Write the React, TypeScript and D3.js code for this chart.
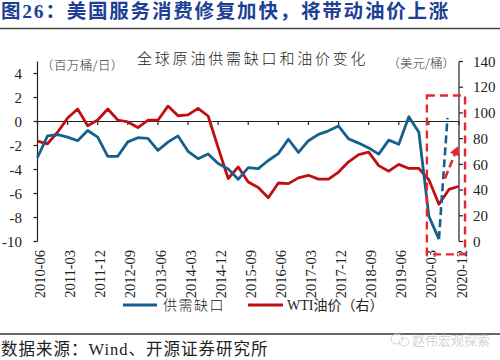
import React from "react";
import * as d3 from "d3";

// ---- data ----
const categories = [
  "2010-06","2010-09","2010-12","2011-03","2011-06","2011-09","2011-12","2012-03","2012-06","2012-09",
  "2012-12","2013-03","2013-06","2013-09","2013-12","2014-03","2014-06","2014-09","2014-12","2015-03",
  "2015-06","2015-09","2015-12","2016-03","2016-06","2016-09","2016-12","2017-03","2017-06","2017-09",
  "2017-12","2018-03","2018-06","2018-09","2018-12","2019-03","2019-06","2019-09","2019-12","2020-03",
  "2020-06","2020-09","2020-12",
];
// 供需缺口 (百万桶/日), left axis
const supplyGap = [
  -3.0, -1.2, -1.1, -1.3, -1.6, -0.75, -1.3, -2.9, -2.9, -1.7,
  -1.35, -1.4, -2.4, -1.72, -1.2, -2.48, -3.1, -2.7, -3.5, -3.95,
  -4.82, -3.85, -3.92, -3.25, -2.68, -1.48, -2.58, -1.6, -1.07, -0.78,
  -0.38, -1.45, -1.8, -2.2, -2.72, -1.55, -1.9, 0.4, -0.9, -7.9,
  -9.8,
];
// WTI油价 (美元/桶), right axis
const wtiPrice = [
  78, 76, 85, 96, 103, 90, 94.5, 103, 94.5, 93,
  88.6, 94.3, 94.3, 105.3, 97.8, 98.5, 103.6, 97.6, 73, 49,
  58, 46.2, 42, 34, 45.5, 45, 49.5, 51.5, 48.5, 48.5,
  54, 62, 67.5, 69.5, 59, 54.7, 60, 56.8, 56.8, 48,
  29, 40.5, 43,
];
// forecast annotations (category index, value)
const gapForecastIdx = [40, 40.85];
const gapForecastVal = [-9.8, 0.3];
const priceArrowIdx = [40.6, 41.9];
const priceArrowVal = [49, 74];
const boxIdx = [38.8, 42.6];
const boxPrice = [113.5, -10];

const xTickLabels = [
  "2010-06","2011-03","2011-12","2012-09","2013-06","2014-03","2014-12","2015-09",
  "2016-06","2017-03","2017-12","2018-09","2019-06","2020-03","2020-12",
];
const leftTicks = [-10, -8, -6, -4, -2, 0, 2, 4];
const rightTicks = [0, 20, 40, 60, 80, 100, 120, 140];

const BLUE = "#15608c";
const RED = "#c00f12";
const BOXRED = "#e8262b";
const SERIF = "'Liberation Serif', 'Times New Roman', serif";
const CJK = "'Liberation Serif', 'Noto Sans CJK SC', serif";

export default function App() {
  const W = 500, H = 360;
  const x = d3.scaleLinear().domain([0, categories.length - 1]).range([37.5, 459]);
  const yL = d3.scaleLinear().domain([-10, 5]).range([241.5, 61.5]);
  const yR = d3.scaleLinear().domain([0, 140]).range([241.5, 61.5]);

  const gapLine = d3.line<number>().x((_, i) => x(i)).y((d) => yL(d));
  const priceLine = d3.line<number>().x((_, i) => x(i)).y((d) => yR(d));
  const gapDash = d3.line<number>().x((d) => x(d)).y((_, i) => yL(gapForecastVal[i]));
  const arrowDash = d3.line<number>().x((d) => x(d)).y((_, i) => yR(priceArrowVal[i]));

  const leftX = x(0);
  const rightX = x(categories.length - 1);

  // arrow geometry
  const ax0 = x(priceArrowIdx[0]), ay0 = yR(priceArrowVal[0]);
  const ax1 = x(priceArrowIdx[1]), ay1 = yR(priceArrowVal[1]);
  const ang = Math.atan2(ay1 - ay0, ax1 - ax0);
  const hl = 9, hw = 5;
  const bx = ax1 - hl * Math.cos(ang), by = ay1 - hl * Math.sin(ang);
  const arrowHead = [
    [ax1, ay1],
    [bx + hw * Math.sin(ang), by - hw * Math.cos(ang)],
    [bx - hw * Math.sin(ang), by + hw * Math.cos(ang)],
  ].map((p) => p.join(",")).join(" ");

  return (
    <svg width={W} height={H} style={{ position: "absolute", left: 0, top: 0, display: "block", background: "#fff" }}>
      <rect x={0} y={0} width={W} height={H} fill="#fff" />
      {/* header */}
      <text x={1} y={18} fontSize={19.5} letterSpacing={1.8} fontWeight="bold" fill="#1d3f95" fontFamily={CJK}>
        图26：美国服务消费修复加快，将带动油价上涨
      </text>
      <line x1={0} x2={W} y1={28.5} y2={28.5} stroke="#444" strokeWidth={1.5} />

      {/* chart title & units */}
      <text x={137} y={64} fontSize={15} letterSpacing={2.8} fill="#222" fontFamily="'Noto Sans CJK SC', sans-serif" fontWeight={300}>
        全球原油供需缺口和油价变化
      </text>
      <text x={41} y={70} fontSize={12.5} letterSpacing={0.4} fill="#333" fontFamily="'Noto Sans CJK SC', sans-serif" fontWeight={300}>
        （百万桶/日）
      </text>
      <text x={455} y={68} fontSize={12.5} textAnchor="end" fill="#333" fontFamily="'Noto Sans CJK SC', sans-serif" fontWeight={300}>
        （美元/桶）
      </text>

      {/* left axis */}
      <line x1={leftX} x2={leftX} y1={yL(5)} y2={yL(-10)} stroke="#222" strokeWidth={1.2} />
      {leftTicks.map((t) => (
        <g key={"l" + t}>
          <line x1={leftX - 4} x2={leftX} y1={yL(t)} y2={yL(t)} stroke="#222" strokeWidth={1.2} />
          <text x={22} y={yL(t)} dy="0.35em" textAnchor="end" fontSize={15} fontFamily={SERIF} fill="#222">
            {t}
          </text>
        </g>
      ))}
      {/* right axis */}
      <line x1={rightX} x2={rightX} y1={yR(140)} y2={yR(0)} stroke="#222" strokeWidth={1.2} />
      {rightTicks.map((t) => (
        <g key={"r" + t}>
          <line x1={rightX} x2={rightX + 4} y1={yR(t)} y2={yR(t)} stroke="#222" strokeWidth={1.2} />
          <text x={473} y={yR(t)} dy="0.35em" textAnchor="start" fontSize={15} fontFamily={SERIF} fill="#222">
            {t}
          </text>
        </g>
      ))}
      {/* zero line with ticks */}
      <line x1={leftX} x2={rightX} y1={yL(0)} y2={yL(0)} stroke="#222" strokeWidth={1.2} />
      {xTickLabels.map((lab) => {
        const i = categories.indexOf(lab);
        return (
          <line key={"t" + lab} x1={x(i)} x2={x(i)} y1={yL(0)} y2={yL(0) + 3.5} stroke="#222" strokeWidth={1.2} />
        );
      })}
      {/* x labels */}
      {xTickLabels.map((lab) => {
        const i = categories.indexOf(lab);
        const cx = x(i) + 2.5;
        return (
          <text key={"x" + lab} transform={`translate(${cx},250) rotate(-90)`} textAnchor="end" dy="0.35em"
            fontSize={14.5} fontFamily={SERIF} fill="#222">
            {lab}
          </text>
        );
      })}

      {/* series */}
      <path d={priceLine(wtiPrice) || ""} fill="none" stroke={RED} strokeWidth={2.8} strokeLinejoin="round" />
      <path d={gapLine(supplyGap) || ""} fill="none" stroke={BLUE} strokeWidth={2.8} strokeLinejoin="round" />

      {/* forecast annotations */}
      <path d={gapDash(gapForecastIdx) || ""} fill="none" stroke={BLUE} strokeWidth={2.6} strokeDasharray="8,4" />
      <path d={arrowDash(priceArrowIdx) || ""} fill="none" stroke={BOXRED} strokeWidth={2.6} strokeDasharray="8,4" />
      <polygon points={arrowHead} fill={BOXRED} />
      <rect x={x(boxIdx[0])} y={yR(boxPrice[0])} width={x(boxIdx[1]) - x(boxIdx[0])} height={yR(boxPrice[1]) - yR(boxPrice[0])}
        fill="none" stroke={BOXRED} strokeWidth={2.4} strokeDasharray="8,5" />

      {/* legend */}
      <line x1={123} x2={157} y1={305} y2={305} stroke={BLUE} strokeWidth={3} />
      <text x={163} y={305} dy="0.35em" fontSize={14} letterSpacing={1.5} fontFamily="'Noto Sans CJK SC', sans-serif" fontWeight={300} fill="#222">
        供需缺口
      </text>
      <line x1={248} x2={283} y1={305} y2={305} stroke={RED} strokeWidth={3} />
      <text x={287} y={305} dy="0.35em" fontSize={14} fontFamily={CJK} fill="#222">
        WTI油价（右）
      </text>

      {/* footer */}
      <line x1={0} x2={W} y1={334} y2={334} stroke="#333" strokeWidth={1.5} />
      <text x={412} y={340} dy="0.35em" fontSize={13} fontFamily="'Noto Sans CJK SC', sans-serif" fill="#d4d4d4">
        赵伟宏观探索
      </text>
      <ellipse cx={397} cy={339} rx={6} ry={5} fill="none" stroke="#d4d4d4" strokeWidth={1} />
      <ellipse cx={404} cy={342} rx={5} ry={4} fill="none" stroke="#d4d4d4" strokeWidth={1} />
      <text x={1} y={355} fontSize={16.5} letterSpacing={1} fontFamily={CJK} fill="#222">
        数据来源：Wind、开源证券研究所
      </text>
    </svg>
  );
}
